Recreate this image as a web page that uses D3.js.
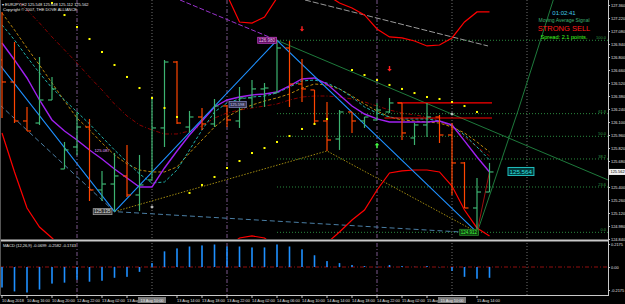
<!DOCTYPE html>
<html>
<head>
<meta charset="utf-8">
<script src="https://cdn.jsdelivr.net/npm/d3@7"></script>
<style>
  html, body { margin: 0; padding: 0; background: #000; overflow: hidden; }
  text { font-family: "Liberation Sans", Arial, sans-serif; }
</style>
</head>
<body>
<svg id="chart" width="625" height="304"></svg>
<script>
// EURJPY H2 bars, 10 Aug 12:00 .. 15 Aug 16:00
var opens  = [126.768,126.531,126.111,126.089,126.337,125.594,125.831,126.046,125.368,125.432,125.519,125.314,125.476,126.036,126.746,126.046,126.154,126.079,126.273,126.111,126.359,126.456,126.413,126.897,126.509,126.445,126.111,125.917,126.208,126.111,126.122,126.208,126.305,125.928,126.068,126.154,125.960,125.659,125.174,125.346];
var highs  = [127.285,126.962,126.262,126.800,126.585,125.885,126.208,126.133,125.573,125.766,125.852,125.745,126.359,126.768,126.757,126.219,126.251,126.348,126.283,126.477,126.552,126.520,126.980,126.972,126.779,126.445,126.316,126.229,126.208,126.154,126.305,126.359,126.305,126.089,126.305,126.176,126.089,125.669,125.497,125.659];
var lows   = [126.143,126.089,126.003,126.068,126.337,125.594,125.745,125.249,125.249,125.135,125.292,125.142,125.476,125.831,126.079,125.982,126.014,126.046,126.046,126.036,126.251,126.262,126.413,126.262,126.316,126.068,125.788,125.799,125.982,126.036,126.122,126.197,125.906,125.852,125.939,125.874,125.314,125.174,124.912,125.346];
var closes = [126.531,126.111,126.003,126.337,126.456,125.799,126.046,125.368,125.432,125.519,125.314,125.422,126.036,126.746,126.089,126.154,126.079,126.273,126.122,126.359,126.456,126.466,126.897,126.509,126.456,126.111,125.906,126.208,126.111,126.154,126.229,126.305,125.982,126.068,126.154,125.960,125.659,125.174,125.346,125.562];

// moving averages
var maFast   = [126.951,126.768,126.574,126.337,126.122,126.003,125.906,125.799,125.702,125.594,125.497,125.400,125.400,125.605,125.788,125.960,126.111,126.262,126.337,126.369,126.391,126.402,126.423,126.488,126.563,126.574,126.509,126.391,126.272,126.186,126.133,126.100,126.100,126.100,126.100,126.111,126.068,125.896,125.723,125.562];
var maMid    = [127.145,126.983,126.800,126.628,126.466,126.337,126.208,126.079,125.939,125.799,125.669,125.540,125.443,125.454,125.583,125.799,126.014,126.208,126.305,126.348,126.369,126.380,126.413,126.477,126.542,126.552,126.520,126.456,126.369,126.262,126.197,126.154,126.133,126.133,126.133,126.111,126.057,125.960,125.831,125.691];
var maSlow   = [127.274,127.091,126.897,126.714,126.520,126.326,126.143,126.014,125.874,125.745,125.648,125.583,125.562,125.562,125.616,125.766,125.906,126.046,126.154,126.229,126.283,126.326,126.359,126.402,126.466,126.509,126.499,126.456,126.380,126.294,126.219,126.154,126.122,126.111,126.100,126.089,126.046,125.982,125.885,125.777];
var maLong   = [127.597,127.446,127.306,127.166,127.016,126.876,126.736,126.585,126.445,126.294,126.165,126.068,126.014,125.971,125.971,126.003,126.057,126.143,126.197,126.229,126.251,126.272,126.294,126.337,126.369,126.380,126.380,126.369,126.348,126.316,126.272,126.229,126.197,126.176,126.154,126.111,126.036,125.939,125.831,125.734];

// bands (null = off the window)
var bandUpper = [null,null,null,null,null,null,null,null,null,null,null,null,null,null,null,null,null,null,127.468,127.177,127.166,127.231,127.436,127.629,127.683,127.629,127.468,127.382,127.328,127.253,127.102,127.016,127.005,126.972,126.919,126.929,127.005,127.177,127.285,127.285];
var bandLower = [125.982,125.562,125.174,124.969,124.851,124.722,null,null,null,null,null,null,null,null,null,null,null,124.668,124.744,124.851,124.873,124.851,124.744,124.668,124.636,124.700,124.797,124.916,125.045,125.152,125.368,125.551,125.573,125.583,125.583,125.562,125.411,125.152,124.959,124.873];

// parabolic sar
var sar = [null,null,null,null,127.382,127.252,127.123,126.994,126.854,126.714,126.585,126.466,126.359,126.251,126.154,125.336,125.422,125.508,125.605,125.680,125.766,125.820,125.885,125.949,126.025,126.079,126.132,null,126.660,126.606,126.552,126.499,126.456,126.412,126.369,126.348,126.316,126.272,126.208,null];

// MACD(12,26,9) histogram
var macd = [-0.194,-0.231,-0.241,-0.213,-0.157,-0.148,-0.120,-0.139,-0.130,-0.102,-0.093,-0.046,0.037,0.148,0.176,0.194,0.204,0.213,0.194,0.194,0.185,0.185,0.213,0.194,0.167,0.111,0.056,0.037,0.019,0.009,0.003,0.019,0.009,0.002,0.009,-0.003,-0.037,-0.093,-0.111,-0.102];

// zigzag swing points [bar, price]
var zigIdx   = [-0.16, 9, 22, 38];
var zigPrice = [126.714, 125.135, 126.980, 124.912];
var lowsIdx   = [9, 26, 38];
var lowsPrice = [125.135, 125.788, 124.912];
var fibLevels = [100, 61.8, 50, 38.2, 23.6, 0];

var priceTicks = [127.360,127.220,127.080,126.940,126.800,126.660,126.520,126.380,126.240,126.100,125.960,125.820,125.680,125.400,125.260,125.120,124.980,124.840];
var lastPrice = 125.562;
var macdTicks = [0.2175, 0, -0.2175];
var timeIdx  = [0,2,4,6,8,10,14,16,18,20,22,24,26,28,30,32,34,38];
var timeText = ["10 Aug 2018","10 Aug 16:00","10 Aug 20:00","12 Aug 22:00","13 Aug 02:00","13 Aug 06:00","13 Aug 14:00","13 Aug 18:00","13 Aug 22:00","14 Aug 02:00","14 Aug 06:00","14 Aug 10:00","14 Aug 14:00","14 Aug 18:00","14 Aug 22:00","15 Aug 02:00","15 Aug 06:00","15 Aug 14:00"];
var markIdx  = [12, 36];
var markText = ["13 Aug 10:00", "15 Aug 10:00"];
var daySeps = [6, 18, 30];
var markLines = [12, 36, 42];

var svg = d3.select('#chart');
var W = 608;
var x = d3.scaleLinear().domain([0, 48.48]).range([2, W]);
var y = d3.scaleLinear().domain([124.84, 127.36]).range([239, 5]);
var ym = d3.scaleLinear().domain([-0.2175, 0.2175]).range([290, 244]);
var idx = d3.range(opens.length);

svg.append('rect').attr('width', 625).attr('height', 304).attr('fill', '#000');

var defs = svg.append('defs');
defs.append('clipPath').attr('id', 'cmain').append('rect').attr('x', 0).attr('y', 0).attr('width', W).attr('height', 239);
defs.append('clipPath').attr('id', 'cmacd').append('rect').attr('x', 0).attr('y', 242).attr('width', W).attr('height', 53);

var main = svg.append('g').attr('clip-path', 'url(#cmain)');
var sub = svg.append('g').attr('clip-path', 'url(#cmacd)');

// vertical separators
daySeps.forEach(function (i) {
  [main, sub].forEach(function (g) {
    g.append('line').attr('x1', x(i)).attr('x2', x(i)).attr('y1', 0).attr('y2', 296)
      .attr('stroke', '#9b6fb0').attr('stroke-dasharray', '4,2,1,2').attr('stroke-width', 0.8);
  });
});
markLines.forEach(function (i) {
  [main, sub].forEach(function (g) {
    g.append('line').attr('x1', x(i)).attr('x2', x(i)).attr('y1', 0).attr('y2', 296)
      .attr('stroke', '#8a8a8a').attr('stroke-dasharray', '1,2').attr('stroke-width', 0.8);
  });
});

// fibonacci levels from the last swing
var fibHi = zigPrice[2], fibLo = zigPrice[3];
fibLevels.forEach(function (r) {
  var p = fibLo + (fibHi - fibLo) * r / 100;
  main.append('line').attr('x1', x(zigIdx[2])).attr('x2', W).attr('y1', y(p)).attr('y2', y(p))
    .attr('stroke', '#2f9a45').attr('stroke-dasharray', '1,2').attr('stroke-width', 0.9);
  main.append('text').attr('x', W - 2).attr('y', y(p) - 1).attr('text-anchor', 'end')
    .attr('font-size', 4).attr('fill', '#2f9a45').text(r.toFixed(1));
});

var line = function (arr) {
  return d3.line().defined(function (d) { return arr[d] != null; })
    .x(function (d) { return x(d); }).y(function (d) { return y(arr[d]); })(idx);
};
var pline = function (xs, ps) {
  return d3.line().x(function (d) { return x(d[0]); }).y(function (d) { return y(d[1]); })(d3.zip(xs, ps));
};

// trendlines
main.append('path').attr('d', pline([-0.16, 9, 38], [126.283, 125.135, 124.905]))
  .attr('fill', 'none').attr('stroke', '#4a7ea4').attr('stroke-width', 1).attr('stroke-dasharray', '5,3');
main.append('path').attr('d', pline([22, 48.48], [126.980, 125.476]))
  .attr('fill', 'none').attr('stroke', '#1e7a3c').attr('stroke-width', 1);
main.append('path').attr('d', pline([24.24, 38.88], [127.414, 126.919]))
  .attr('fill', 'none').attr('stroke', '#9a9a9a').attr('stroke-width', 1).attr('stroke-dasharray', '6,2');
main.append('path').attr('d', pline([14.24, 22], [127.414, 126.980]))
  .attr('fill', 'none').attr('stroke', '#9932cc').attr('stroke-width', 1).attr('stroke-dasharray', '5,2');
main.append('path').attr('d', pline([38, 41.3, 44.1], [124.905, 126.229, 127.414]))
  .attr('fill', 'none').attr('stroke', '#1e7a3c').attr('stroke-width', 1);
main.append('path').attr('d', pline(lowsIdx, lowsPrice))
  .attr('fill', 'none').attr('stroke', '#a08a10').attr('stroke-width', 1).attr('stroke-dasharray', '1.5,1.5');

// bands
main.append('path').attr('d', line(bandUpper)).attr('fill', 'none').attr('stroke', '#ff0000').attr('stroke-width', 1.2);
main.append('path').attr('d', line(bandLower)).attr('fill', 'none').attr('stroke', '#ff0000').attr('stroke-width', 1.2);

// moving averages
main.append('path').attr('d', line(maLong)).attr('fill', 'none').attr('stroke', '#8b0000').attr('stroke-width', 1).attr('stroke-dasharray', '4,2,1,2');
main.append('path').attr('d', line(maSlow)).attr('fill', 'none').attr('stroke', '#b8860b').attr('stroke-width', 1).attr('stroke-dasharray', '3,2');
main.append('path').attr('d', line(maMid)).attr('fill', 'none').attr('stroke', '#20b2aa').attr('stroke-width', 1).attr('stroke-dasharray', '3,2');
main.append('path').attr('d', line(maFast)).attr('fill', 'none').attr('stroke', '#a020f0').attr('stroke-width', 1.4);

// zigzag
main.append('path').attr('d', pline(zigIdx, zigPrice)).attr('fill', 'none').attr('stroke', '#1e90ff').attr('stroke-width', 1.1);
main.append('path').attr('d', pline([38, 39], [124.912, closes[39]])).attr('fill', 'none').attr('stroke', '#a01010').attr('stroke-width', 1);

// horizontal signal lines
main.append('line').attr('x1', x(31.6)).attr('x2', x(39.2)).attr('y1', y(126.305)).attr('y2', y(126.305)).attr('stroke', '#ff0000').attr('stroke-width', 1.2);
main.append('line').attr('x1', x(30.6)).attr('x2', x(39.2)).attr('y1', y(126.143)).attr('y2', y(126.143)).attr('stroke', '#ff0000').attr('stroke-width', 1.2);

// OHLC bars
var bars = main.selectAll('g.bar').data(idx).enter().append('g')
  .attr('stroke', function (i) { return closes[i] >= opens[i] ? '#3cb371' : '#ff4500'; })
  .attr('stroke-width', 1.2);
bars.append('line').attr('x1', function (i) { return x(i); }).attr('x2', function (i) { return x(i); })
  .attr('y1', function (i) { return y(highs[i]); }).attr('y2', function (i) { return y(lows[i]); });
bars.append('line').attr('x1', function (i) { return x(i) - 4; }).attr('x2', function (i) { return x(i); })
  .attr('y1', function (i) { return y(opens[i]); }).attr('y2', function (i) { return y(opens[i]); });
bars.append('line').attr('x1', function (i) { return x(i); }).attr('x2', function (i) { return x(i) + 4; })
  .attr('y1', function (i) { return y(closes[i]); }).attr('y2', function (i) { return y(closes[i]); });

// SAR dots
main.selectAll('rect.sar').data(idx.filter(function (i) { return sar[i] != null; })).enter().append('rect')
  .attr('x', function (i) { return x(i) - 1; }).attr('y', function (i) { return y(sar[i]) - 1; })
  .attr('width', 2).attr('height', 2).attr('fill', '#ffff00');

// fractal arrows
var arrow = function (i, p, up, color) {
  var cx = x(i), cy = y(p), s = up ? -1 : 1;
  main.append('path')
    .attr('d', 'M' + (cx - 0.7) + ',' + (cy - 3 * s) + 'h1.4v' + (3 * s) + 'h1.6l-2.3,' + (2.4 * s) + 'l-2.3,' + (-2.4 * s) + 'h1.6z')
    .attr('fill', color);
};
arrow(24, 127.10, false, '#ff2020');
arrow(31, 126.67, false, '#ff2020');
arrow(30, 125.85, true, '#40ff40');

[[12, 125.185], [36, 126.186]].forEach(function (m) {
  main.append('path').attr('d', 'M' + (x(m[0]) - 1.5) + ',' + y(m[1]) + 'h3M' + x(m[0]) + ',' + (y(m[1]) - 1.5) + 'v3')
    .attr('stroke', '#e8e8e8').attr('stroke-width', 1);
});

// swing labels
var tag = function (i, p, txt, fill, stroke, color, dx, fs) {
  var t = main.append('text').attr('x', x(i) + dx).attr('y', y(p) + 1.5).attr('text-anchor', 'end')
    .attr('font-size', fs).attr('fill', color).text(txt);
  var b = t.node().getBBox();
  main.insert('rect', function () { return t.node(); })
    .attr('x', b.x - 1).attr('y', b.y - 0.5).attr('width', b.width + 2).attr('height', b.height + 1)
    .attr('fill', fill).attr('stroke', stroke).attr('stroke-width', 0.8);
};
tag(22, 126.980, '126.980', '#5a0a5a', '#c040c0', '#f0c0f0', -2, 4.5);
tag(9, 125.135, '125.135', '#3a3a3a', '#9a9a9a', '#e0e0e0', -4, 4.5);
tag(38, 124.912, '124.912', '#0e3a0e', '#2a8a2a', '#40ff40', 0, 4.5);
tag(19.4, 126.290, '125.598', '#30304a', '#8080c0', '#d0d0ff', 0, 4);
main.append('text').attr('x', x(7.4)).attr('y', y(125.78)).attr('font-size', 4.2).attr('fill', '#e0a0ff').text('125.087');

// current price box
var cp = main.append('text').attr('x', x(40.6)).attr('y', y(125.564) + 2.2).attr('font-size', 6.2).attr('fill', '#30e0e0').text('125.564');
var cb = cp.node().getBBox();
main.insert('rect', function () { return cp.node(); })
  .attr('x', cb.x - 1.5).attr('y', cb.y - 0.5).attr('width', cb.width + 3).attr('height', cb.height + 1)
  .attr('fill', '#003838').attr('stroke', '#20c0c0').attr('stroke-width', 1);

// MACD window
sub.append('line').attr('x1', 0).attr('x2', W).attr('y1', ym(0)).attr('y2', ym(0))
  .attr('stroke', '#a01010').attr('stroke-width', 0.9).attr('stroke-dasharray', '4,2,1,2');
sub.selectAll('rect.h').data(idx).enter().append('rect')
  .attr('x', function (i) { return x(i) - 0.8; })
  .attr('y', function (i) { return Math.min(ym(0), ym(macd[i])); })
  .attr('width', 1.6)
  .attr('height', function (i) { return Math.abs(ym(macd[i]) - ym(0)); })
  .attr('fill', '#1e90ff');

// window frames
svg.append('rect').attr('x', 0).attr('y', 239.5).attr('width', W).attr('height', 2).attr('fill', '#c8c8c8');
svg.append('line').attr('x1', 0).attr('x2', W + 0.5).attr('y1', 295.5).attr('y2', 295.5).attr('stroke', '#c8c8c8');
svg.append('line').attr('x1', W + 0.5).attr('x2', W + 0.5).attr('y1', 0).attr('y2', 296).attr('stroke', '#c8c8c8');
svg.append('line').attr('x1', 0.5).attr('x2', 0.5).attr('y1', 0).attr('y2', 296).attr('stroke', '#555');

// price axis
var styleAxis = function (g) {
  g.select('.domain').remove();
  g.selectAll('line').attr('stroke', '#c8c8c8');
  g.selectAll('text').attr('fill', '#e0e0e0').attr('font-size', 3.9).attr('font-family', 'Liberation Sans, Arial');
};
svg.append('g').attr('transform', 'translate(' + (W + 0.5) + ',0)')
  .call(d3.axisRight(y).tickValues(priceTicks).tickFormat(d3.format('.3f')).tickSize(1.5).tickPadding(1))
  .call(styleAxis);
svg.append('rect').attr('x', W + 1).attr('y', y(lastPrice) - 3).attr('width', 16).attr('height', 6).attr('fill', '#f0f0f0');
svg.append('text').attr('x', W + 2.5).attr('y', y(lastPrice) + 1.5).attr('font-size', 3.9).attr('fill', '#000').text(d3.format('.3f')(lastPrice));

svg.append('g').attr('transform', 'translate(' + (W + 0.5) + ',0)')
  .call(d3.axisRight(ym).tickValues(macdTicks).tickFormat(function (d) { return d === 0 ? '0.00' : d.toFixed(4); }).tickSize(1.5).tickPadding(1))
  .call(styleAxis);

// time axis
timeIdx.forEach(function (i, k) {
  svg.append('text').attr('x', x(i)).attr('y', 301.5).attr('font-size', 3.9).attr('fill', '#e0e0e0').text(timeText[k]);
  svg.append('line').attr('x1', x(i)).attr('x2', x(i)).attr('y1', 296).attr('y2', 298).attr('stroke', '#c8c8c8');
});
markIdx.forEach(function (i, k) {
  svg.append('rect').attr('x', x(i) - 14).attr('y', 297).attr('width', 28).attr('height', 6).attr('fill', '#7a7a7a');
  svg.append('text').attr('x', x(i)).attr('y', 301.5).attr('text-anchor', 'middle').attr('font-size', 3.9).attr('fill', '#e8e8e8').text(markText[k]);
});

// header texts
svg.append('text').attr('x', 2).attr('y', 5.5).attr('font-size', 4).attr('fill', '#e8e8e8').text('\u25BE EURJPY,H2  125.548 125.648 125.112 125.562');
svg.append('text').attr('x', 3).attr('y', 11).attr('font-size', 4).attr('fill', '#e8e8e8').text('Copyright \u00A9 2007, THE DOVE ALLIANCE');
svg.append('text').attr('x', 3).attr('y', 247).attr('font-size', 4).attr('fill', '#e8e8e8').text('MACD (12,26,9) -0.0699 -0.2582 -0.1743');

var sig = svg.append('g').attr('text-anchor', 'middle');
sig.append('text').attr('x', 564).attr('y', 15).attr('font-size', 6).attr('fill', '#40c8e8').text('01:02:41');
sig.append('text').attr('x', 564).attr('y', 22).attr('font-size', 5).attr('font-family', 'Liberation Serif, serif').attr('fill', '#3cb371').text('Moving Average Signal');
sig.append('text').attr('x', 564).attr('y', 31).attr('font-size', 7.5).attr('font-family', 'Liberation Serif, serif').attr('fill', '#ff1a1a').text('STRONG SELL');
sig.append('text').attr('x', 564).attr('y', 38.5).attr('font-size', 5.6).attr('fill', '#40ff20').text('Spread: 2.1 points.');
</script>
</body>
</html>
